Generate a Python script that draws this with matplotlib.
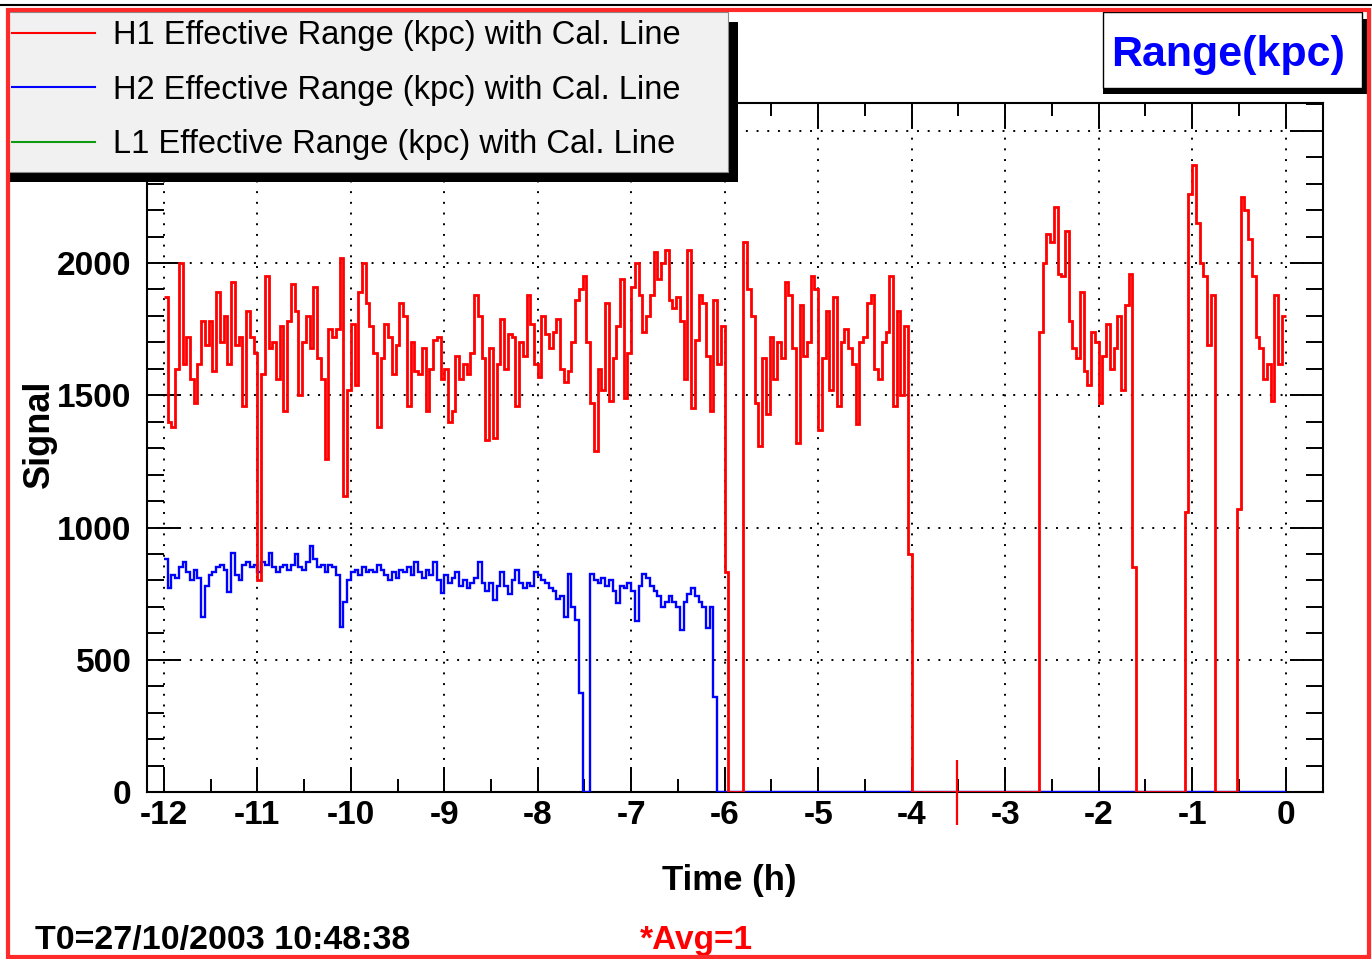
"""Effective range time series (ROOT style) recreated with matplotlib."""

import numpy as np
import matplotlib

matplotlib.use("Agg")
from matplotlib import pyplot as plt
from matplotlib.lines import Line2D
from matplotlib.patches import Rectangle
from matplotlib.ticker import FuncFormatter, MultipleLocator

plt.rcParams["font.family"] = ["Liberation Sans", "DejaVu Sans"]
plt.rcParams["font.weight"] = "bold"
plt.rcParams["axes.unicode_minus"] = False

# ---------------------------------------------------------------- data
# bins are 0.04 h wide, starting at t = -12 h
BIN_HOURS = 0.04
T_START = -12.0

# H1 (red)
h1_from_m12 = [  # -12.00 .. -9.04
    1870, 1400, 1380, 1600, 2000, 1620, 1720, 1560, 1470, 1620,
    1780, 1690, 1780, 1590, 1890, 1700, 1800, 1620, 1930, 1690,
    1720, 1460, 1820, 1720, 1660, 800, 1580, 1950, 1680, 1700,
    1560, 1760, 1440, 1780, 1920, 1820, 1500, 1700, 1800, 1680,
    1910, 1640, 1560, 1260, 1750, 1720, 1750, 2020, 1120, 1520,
    1770, 1540, 1890, 2000, 1850, 1760, 1660, 1380, 1640, 1770,
    1720, 1580, 1690, 1850, 1800, 1460, 1700, 1590, 1580, 1680,
    1440, 1600, 1710, 1720, 1560,
]
h1_from_m9 = [  # -9.00 .. -6.00
    1600, 1400, 1440, 1650, 1560, 1620, 1580, 1660, 1880, 1800,
    1640, 1330, 1680, 1340, 1620, 1790, 1600, 1730, 1720, 1460,
    1700, 1650, 1880, 1770, 1620, 1570, 1800, 1730, 1680, 1740,
    1790, 1600, 1550, 1590, 1700, 1860, 1900, 1950, 1700, 1470,
    1290, 1600, 1520, 1850, 1480, 1640, 1760, 1940, 1490, 1660,
    1910, 2000, 1880, 1740, 1800, 1880, 2040, 1940, 2000, 2050,
    1860, 1830, 1870, 1780, 1560, 2050, 1450, 1710, 1880, 1850,
    1650, 1440, 1860, 1620, 1760, 830,
]
h1_gap_m6 = [0, 0, 0, 0]  # -5.96 .. -5.84
h1_from_m5_8 = [  # -5.80 .. -4.04
    2080, 1900, 1800, 1470, 1310, 1640, 1430, 1720, 1560, 1700,
    1640, 1930, 1880, 1680, 1320, 1840, 1650, 1700, 1950, 1900,
    1370, 1640, 1820, 1520, 1870, 1460, 1700, 1750, 1680, 1620,
    1390, 1700, 1720, 1850, 1880, 1600, 1560, 1700, 1740, 1950,
    1460, 1820, 1500, 1760, 900,
]
h1_gap_m4 = [0] * 34  # -4.00 .. -2.68
h1_from_m2_64 = [  # -2.64 .. -1.64
    1740, 2000, 2110, 2080, 2210, 1960, 1950, 2120, 1780, 1680,
    1640, 1890, 1590, 1540, 1740, 1700, 1470, 1650, 1770, 1600,
    1680, 1800, 1520, 1840, 1960, 850,
]
h1_gap_m1_6 = [0] * 13  # -1.60 .. -1.12
h1_from_m1_08 = [1060, 2260, 2370, 2150, 2000, 1950, 1690, 1880]
h1_gap_m0_76 = [0] * 6  # -0.76 .. -0.56
h1_from_m0_52 = [
    1070, 2250, 2200, 2090, 1950, 1720, 1680, 1560, 1620, 1480,
    1880, 1620, 1800,
]

# short red calibration stroke near t = -3.5 h
cal_mark_t = -3.52
cal_mark_low, cal_mark_high = -125, 120

# H2 (blue): -12.00 .. -6.04, then off (zero) up to t = 0
h2_until_m6 = [
    880, 770, 820, 810, 850, 870, 830, 800, 840, 810,
    662, 780, 820, 830, 850, 860, 840, 755, 905, 820,
    800, 860, 870, 850, 860, 830, 870, 860, 905, 850,
    830, 850, 860, 840, 860, 900, 850, 840, 870, 930,
    880, 850, 860, 830, 860, 850, 820, 625, 720, 800,
    830, 840, 820, 850, 830, 840, 830, 860, 840, 820,
    800, 830, 810, 840, 830, 850, 820, 870, 830, 810,
    840, 820, 870, 800, 751, 820, 790, 810, 830, 780,
    800, 770, 790, 810, 870, 790, 760, 790, 725, 780,
    830, 780, 750, 800, 840, 790, 770, 790, 780, 830,
    820, 800, 790, 770, 760, 730, 740, 662, 826, 700,
    652, 374, 0, 0, 826, 800, 790, 810, 780, 800,
    760, 713, 780, 770, 790, 760, 645, 780, 825, 810,
    780, 760, 740, 700, 720, 740, 720, 700, 612, 720,
    750, 770, 740, 720, 700, 620, 700, 360, 0, 0,
]
h2_off_after_m6 = [0] * 150

legend_labels = [
    "H1 Effective Range (kpc) with Cal. Line",
    "H2 Effective Range (kpc) with Cal. Line",
    "L1 Effective Range (kpc) with Cal. Line",
]
series_colors = ["#ff0000", "#0000ff", "#119911"]

x_limits = (-12.18, 0.40)
y_limits = (0, 2605)
y_label_max = 2000  # the 2500 label sits under the legend box

# ---------------------------------------------------------------- layout
W, H = 1372, 959


def fx(px):
    return px / W


def fy(py):
    return 1 - py / H


fig = plt.figure(figsize=(W / 100, H / 100), dpi=100, facecolor="white")
ax = fig.add_axes([fx(147), fy(792), (1323 - 147) / W, (792 - 103) / H])

h1 = np.array(h1_from_m12 + h1_from_m9 + h1_gap_m6 + h1_from_m5_8 + h1_gap_m4
              + h1_from_m2_64 + h1_gap_m1_6 + h1_from_m1_08 + h1_gap_m0_76
              + h1_from_m0_52, dtype=float)
h2 = np.array(h2_until_m6 + h2_off_after_m6, dtype=float)
edges_h1 = T_START + BIN_HOURS * np.arange(len(h1) + 1)
edges_h2 = T_START + BIN_HOURS * np.arange(len(h2) + 1)

ax.stairs(h2, edges_h2, baseline=None, color=series_colors[1], linewidth=1.7, zorder=3)
ax.stairs(h1, edges_h1, baseline=None, color=series_colors[0], linewidth=2.0, zorder=4)
ax.vlines(cal_mark_t, cal_mark_low, cal_mark_high, color=series_colors[0],
          linewidth=1.6, zorder=4, clip_on=False)

ax.set_xlim(*x_limits)
ax.set_ylim(*y_limits)
ax.xaxis.set_major_locator(MultipleLocator(1))
ax.xaxis.set_minor_locator(MultipleLocator(0.5))
ax.yaxis.set_major_locator(MultipleLocator(500))
ax.yaxis.set_minor_locator(MultipleLocator(100))
ax.yaxis.set_major_formatter(FuncFormatter(lambda v, _: f"{v:g}" if v <= y_label_max else ""))

ax.tick_params(which="both", direction="in", top=True, right=True, width=1.4, color="black")
ax.tick_params(axis="x", which="major", length=18, pad=6, labelsize=24)
ax.tick_params(axis="x", which="minor", length=9.4)
ax.tick_params(axis="y", which="major", length=23.8, pad=11, labelsize=24)
ax.tick_params(axis="y", which="minor", length=12.2)
for spine in ax.spines.values():
    spine.set_linewidth(1.5)

ax.grid(True, which="major", color="black", linestyle=(0, (1, 4.5)), linewidth=1.4)
ax.set_axisbelow(False)

ax.set_xlabel("Time (h)", fontsize=25, fontweight="bold")
ax.xaxis.set_label_coords(0.495, -0.104)
ax.set_ylabel("Signal", fontsize=26, fontweight="bold")
ax.yaxis.set_label_coords(-0.077, 0.52)

# legend box with ROOT-like shadow
fig.add_artist(Rectangle((fx(8), fy(182)), (738 - 8) / W, (182 - 22) / H,
                         transform=fig.transFigure, facecolor="black",
                         edgecolor="none", zorder=3.8))
fig.add_artist(Rectangle((fx(8), fy(172)), (728 - 8) / W, (172 - 12) / H,
                         transform=fig.transFigure, facecolor="#f1f1f1",
                         edgecolor="#8a8a8a", linewidth=0.8, zorder=3.9))
handles = [Line2D([], [], color=c, linewidth=1.5) for c in series_colors]
fig.legend(handles, legend_labels, loc="upper left", bbox_to_anchor=(fx(12), fy(20)),
           frameon=False, prop={"size": 23.5, "weight": "normal"},
           handlelength=2.55, handletextpad=0.55, labelspacing=0.72,
           borderpad=0, borderaxespad=0).set_zorder(5)

# title box
fig.add_artist(Rectangle((fx(1103), fy(94)), (1369 - 1103) / W, (94 - 19) / H,
                         transform=fig.transFigure, facecolor="black",
                         edgecolor="none", zorder=3.8))
fig.add_artist(Rectangle((fx(1103), fy(88)), (1362 - 1103) / W, (88 - 12) / H,
                         transform=fig.transFigure, facecolor="white",
                         edgecolor="black", linewidth=1.0, zorder=3.9))
fig.text(fx(1228), fy(55), "Range(kpc)", color="#0000ff", fontsize=31,
         fontweight="bold", ha="center", va="center", zorder=5)

# footer texts
fig.text(fx(35), fy(941), "T0=27/10/2003 10:48:38", fontsize=24.5,
         fontweight="bold", ha="left", va="center")
fig.text(fx(640), fy(941), "*Avg=1", color="#ff0000", fontsize=24,
         fontweight="bold", ha="left", va="center")

# canvas border
fig.add_artist(Rectangle((fx(8), fy(957)), (1369 - 8) / W, (957 - 10) / H,
                         transform=fig.transFigure, fill=False,
                         edgecolor="#ff2a2a", linewidth=3, zorder=6))
fig.add_artist(Line2D([0, 1], [fy(5), fy(5)], transform=fig.transFigure,
                      color="black", linewidth=1.5, zorder=6))

fig.savefig("out.png", dpi=100)
